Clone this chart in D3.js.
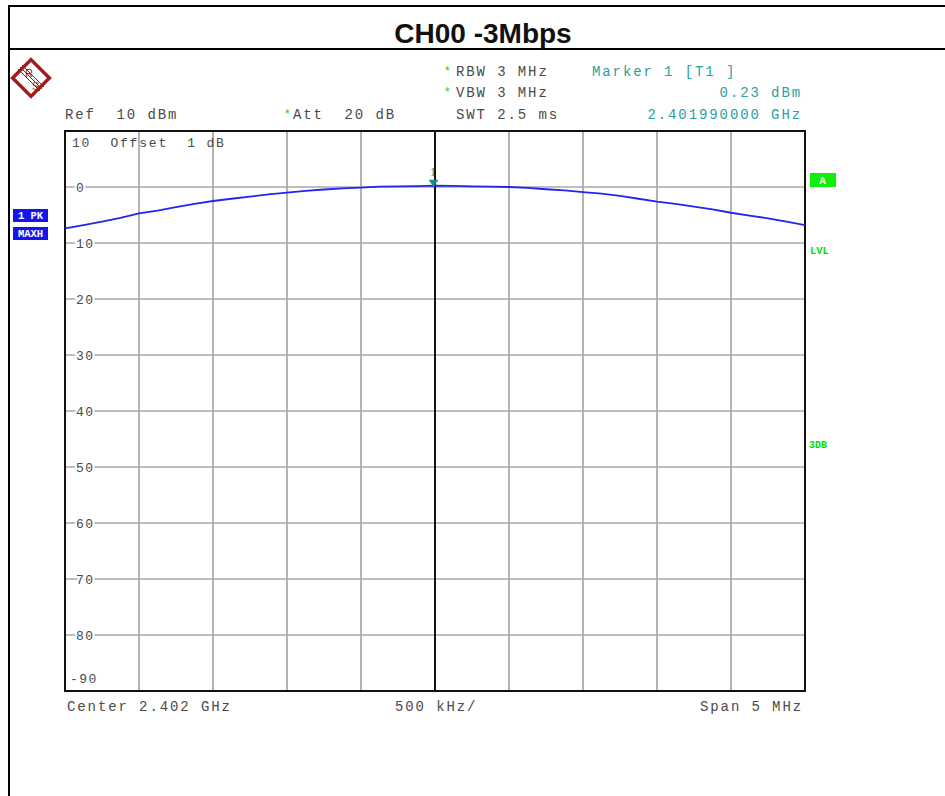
<!DOCTYPE html>
<html>
<head>
<meta charset="utf-8">
<script src="https://cdn.jsdelivr.net/npm/d3@7/dist/d3.min.js"></script>
<style>
  html, body { margin: 0; padding: 0; background: #fff; }
  svg { display: block; }
  .mono { font-family: "Liberation Mono", "DejaVu Sans Mono", monospace; white-space: pre; }
</style>
</head>
<body>
<svg id="chart" width="945" height="796"></svg>
<script>
// ---- Data ----
const chartTitle = "CH00 -3Mbps";
const centerGHz = 2.402;
const spanMHz = 5;
const refLevel = 10;
const dbPerDiv = 10;
const yTickLabels = ["0", "10", "20", "30", "40", "50", "60", "70", "80", "90"];
const yTickValues = [0, -10, -20, -30, -40, -50, -60, -70, -80, -90];
const xGridOffsetsMHz = [-2.5, -2.0, -1.5, -1.0, -0.5, 0, 0.5, 1.0, 1.5, 2.0, 2.5];
const traceOffsetsMHz = [-2.500, -2.375, -2.250, -2.125, -2.000, -1.875, -1.750, -1.625, -1.500, -1.375,
  -1.250, -1.125, -1.000, -0.875, -0.750, -0.625, -0.500, -0.375, -0.250, -0.125,
  0.000, 0.125, 0.250, 0.375, 0.500, 0.625, 0.750, 0.875, 1.000, 1.125,
  1.250, 1.375, 1.500, 1.625, 1.750, 1.875, 2.000, 2.125, 2.250, 2.375, 2.500];
const traceDbm = [-7.4, -6.8, -6.2, -5.5, -4.7, -4.2, -3.6, -3.0, -2.5, -2.1,
  -1.7, -1.3, -1.0, -0.7, -0.45, -0.25, -0.1, 0.05, 0.1, 0.15,
  0.23, 0.2, 0.12, 0.05, 0.0, -0.15, -0.4, -0.6, -0.9, -1.2,
  -1.6, -2.1, -2.6, -3.0, -3.5, -4.0, -4.6, -5.1, -5.6, -6.2, -6.8];
const markerFreqGHz = 2.401990000;
const markerLevel = 0.23;
const headerLeft = [
  { text: "Ref  10 dBm", star: false },
  { text: "Att  20 dB", star: true }
];
const headerSettings = [
  { text: "RBW 3 MHz", star: true },
  { text: "VBW 3 MHz", star: true },
  { text: "SWT 2.5 ms", star: false }
];
const markerInfo = ["Marker 1 [T1 ]", "0.23 dBm", "2.401990000 GHz"];
const footer = ["Center 2.402 GHz", "500 kHz/", "Span 5 MHz"];

// ---- Layout ----
const svg = d3.select("#chart");
const plot = { left: 65, right: 805, top: 131, bottom: 691 };
const x = d3.scaleLinear().domain([-spanMHz / 2, spanMHz / 2]).range([plot.left, plot.right]);
const y = d3.scaleLinear().domain([refLevel - 10 * dbPerDiv, refLevel]).range([plot.bottom, plot.top]);

const textGray = "#4a4a4a";
const teal = "#2aa0a0";
const green = "#00e000";

// Outer frame
svg.append("line").attr("x1", 8).attr("x2", 945).attr("y1", 6).attr("y2", 6).attr("stroke", "#000").attr("stroke-width", 2);
svg.append("line").attr("x1", 8).attr("x2", 945).attr("y1", 49).attr("y2", 49).attr("stroke", "#000").attr("stroke-width", 2);
svg.append("line").attr("x1", 9).attr("x2", 9).attr("y1", 5).attr("y2", 796).attr("stroke", "#000").attr("stroke-width", 2);

// Title
svg.append("text").attr("x", 483).attr("y", 43).attr("text-anchor", "middle")
  .attr("font-family", "Liberation Sans, Arial, sans-serif").attr("font-weight", "bold")
  .attr("font-size", 28).attr("fill", "#111").text(chartTitle);

// R&S logo
const logoColor = "#a01c1c";
const logo = svg.append("g").attr("transform", "translate(31,78)");
logo.append("rect").attr("x", -13).attr("y", -13).attr("width", 26).attr("height", 26)
  .attr("transform", "rotate(45)").attr("fill", "none").attr("stroke", logoColor).attr("stroke-width", 3.5);
[-2, 0, 2].forEach(o => {
  logo.append("line").attr("x1", -11 + o).attr("y1", -11 - o).attr("x2", 11 + o).attr("y2", 11 - o)
    .attr("stroke", logoColor).attr("stroke-width", 1);
});
logo.append("text").attr("x", -6).attr("y", -1).attr("font-size", 11).attr("font-family", "Liberation Sans, sans-serif")
  .attr("fill", logoColor).text("R");
logo.append("text").attr("x", 1).attr("y", 12).attr("font-size", 11).attr("font-family", "Liberation Sans, sans-serif")
  .attr("fill", logoColor).text("S");

// Header text helper
function monoText(g, xPos, yPos, txt, color, anchor) {
  return g.append("text").attr("class", "mono").attr("x", xPos).attr("y", yPos)
    .attr("font-size", 14).attr("letter-spacing", 1.9).attr("fill", color)
    .attr("text-anchor", anchor || "start").text(txt);
}
function star(xPos, yPos) {
  svg.append("text").attr("x", xPos).attr("y", yPos).attr("font-size", 12)
    .attr("font-family", "Liberation Sans, sans-serif").attr("fill", green).text("*");
}

monoText(svg, 65, 119, headerLeft[0].text, textGray);
star(285, 118);
monoText(svg, 293, 119, headerLeft[1].text, textGray);

const settingsY = [76, 97, 119];
headerSettings.forEach((d, i) => {
  if (d.star) star(445, settingsY[i] - 1);
  monoText(svg, 456, settingsY[i], d.text, textGray);
});
monoText(svg, 592, 76, markerInfo[0], teal);
monoText(svg, 802, 97, markerInfo[1], teal, "end");
monoText(svg, 802, 119, markerInfo[2], teal, "end");

// Grid
const grid = svg.append("g");
xGridOffsetsMHz.slice(1, -1).forEach(v => {
  if (v === 0) return;
  grid.append("line").attr("x1", x(v)).attr("x2", x(v)).attr("y1", plot.top).attr("y2", plot.bottom)
    .attr("stroke", "#8a8a8a").attr("stroke-width", 1.3);
});
yTickValues.forEach(v => {
  if (v === -90) return;
  grid.append("line").attr("x1", plot.left).attr("x2", plot.right).attr("y1", y(v)).attr("y2", y(v))
    .attr("stroke", "#a8a8a8").attr("stroke-width", 1.5);
});
// Center line
grid.append("line").attr("x1", x(0)).attr("x2", x(0)).attr("y1", plot.top).attr("y2", plot.bottom)
  .attr("stroke", "#111").attr("stroke-width", 2);

// Y labels
yTickValues.forEach((v, i) => {
  const isBottom = v === -90;
  if (isBottom) {
    svg.append("text").attr("class", "mono").attr("x", 70).attr("y", y(v) - 8).attr("font-size", 13)
      .attr("letter-spacing", 1.5).attr("fill", textGray).text("-" + yTickLabels[i]);
  } else {
    svg.append("text").attr("class", "mono").attr("x", 76).attr("y", y(v) + 4.5).attr("font-size", 13)
      .attr("letter-spacing", 1.5).attr("fill", textGray)
      .attr("stroke", "#fff").attr("stroke-width", 4).attr("paint-order", "stroke")
      .text(yTickLabels[i]);
  }
});

svg.append("text").attr("class", "mono").attr("x", 72).attr("y", 147).attr("font-size", 13)
  .attr("letter-spacing", 1.8).attr("fill", textGray)
  .text("10  Offset  1 dB");

// Plot border
svg.append("rect").attr("x", plot.left).attr("y", plot.top).attr("width", plot.right - plot.left)
  .attr("height", plot.bottom - plot.top).attr("fill", "none").attr("stroke", "#111").attr("stroke-width", 2);

// Trace
const line = d3.line().x((d, i) => x(traceOffsetsMHz[i])).y(d => y(d));
svg.append("path").datum(traceDbm).attr("d", line).attr("fill", "none")
  .attr("stroke", "#2424f0").attr("stroke-width", 1.8);

// Marker
const mx = x((markerFreqGHz - centerGHz) * 1000);
const my = y(markerLevel);
svg.append("path").attr("d", `M${mx - 5},${my - 6} L${mx + 5},${my - 6} L${mx},${my + 1} Z`).attr("fill", "#1a8a8a");
svg.append("text").attr("x", mx - 0.5).attr("y", my - 10).attr("text-anchor", "middle").attr("font-size", 12)
  .attr("font-family", "Liberation Serif, serif").attr("fill", "#1a8a8a").text("1");

// Left trace info boxes
[["1 PK", 209], ["MAXH", 227]].forEach(([t, yy]) => {
  svg.append("rect").attr("x", 13).attr("y", yy).attr("width", 35).attr("height", 13).attr("fill", "#1515ee");
  svg.append("text").attr("class", "mono").attr("x", 30.5).attr("y", yy + 10).attr("text-anchor", "middle")
    .attr("font-size", 10.5).attr("font-weight", "bold").attr("fill", "#fff").text(t);
});

// Right labels
svg.append("rect").attr("x", 810).attr("y", 173).attr("width", 26).attr("height", 14).attr("fill", "#10ee10");
svg.append("text").attr("class", "mono").attr("x", 822.5).attr("y", 184).attr("text-anchor", "middle")
  .attr("font-size", 11).attr("font-weight", "bold").attr("fill", "#fff").text("A");
svg.append("text").attr("class", "mono").attr("x", 810).attr("y", 254).attr("font-size", 10.5)
  .attr("font-weight", "bold").attr("fill", green).text("LVL");
svg.append("text").attr("class", "mono").attr("x", 809).attr("y", 448).attr("font-size", 10)
  .attr("font-weight", "bold").attr("fill", green).text("3DB");

// Footer
monoText(svg, 67, 711, footer[0], textGray);
monoText(svg, 395, 711, footer[1], textGray);
monoText(svg, 803, 711, footer[2], textGray, "end");
</script>
</body>
</html>
